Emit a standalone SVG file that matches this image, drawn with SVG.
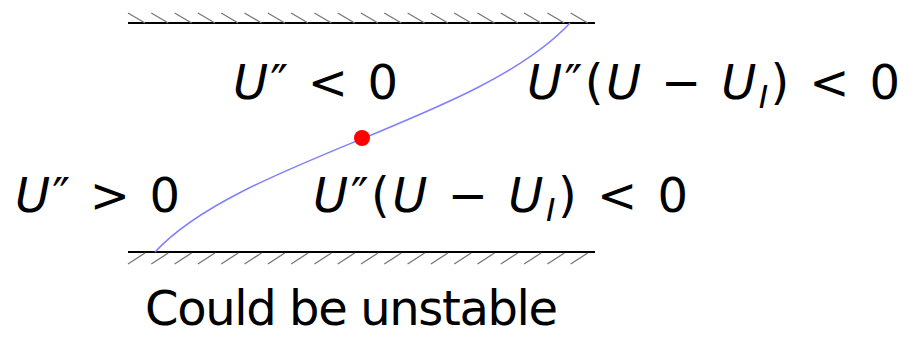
<svg xmlns="http://www.w3.org/2000/svg" width="915" height="339" viewBox="0 0 915 339">
<style>
.wall{stroke:#000;stroke-width:2;fill:none}
.hatch{stroke:#777;stroke-width:1.3;fill:none}
.t{font-family:"DejaVu Sans","Liberation Sans",sans-serif;font-size:48px;fill:#000}
.i{font-style:italic}
.curve{stroke:#8080ff;stroke-width:1.5;fill:none}
</style>
<g id="top-wall">
<line class="wall" x1="128" y1="23" x2="595" y2="23"/>
<g class="hatch">
<path d="M128,13 l17,10 M151.3,13 l17,10 M174.6,13 l17,10 M197.9,13 l17,10 M221.2,13 l17,10 M244.5,13 l17,10 M267.8,13 l17,10 M291.1,13 l17,10 M314.4,13 l17,10 M337.7,13 l17,10 M361,13 l17,10 M384.3,13 l17,10 M407.6,13 l17,10 M430.9,13 l17,10 M454.2,13 l17,10 M477.5,13 l17,10 M500.8,13 l17,10 M524.1,13 l17,10 M547.4,13 l17,10 M570.7,13 l17,10"/>
</g>
</g>
<g id="bottom-wall">
<line class="wall" x1="128" y1="252" x2="595" y2="252"/>
<g class="hatch">
<path d="M128,264 l17,-11 M151.3,264 l17,-11 M174.6,264 l17,-11 M197.9,264 l17,-11 M221.2,264 l17,-11 M244.5,264 l17,-11 M267.8,264 l17,-11 M291.1,264 l17,-11 M314.4,264 l17,-11 M337.7,264 l17,-11 M361,264 l17,-11 M384.3,264 l17,-11 M407.6,264 l17,-11 M430.9,264 l17,-11 M454.2,264 l17,-11 M477.5,264 l17,-11 M500.8,264 l17,-11 M524.1,264 l17,-11 M547.4,264 l17,-11 M570.7,264 l17,-11"/>
</g>
</g>
<g id="connectors">
<path class="curve" d="M155,252 C240,160 480,120 570,23"/>
</g>
<g id="inflection-point">
<circle cx="362" cy="138" r="8" fill="#ff0000"/>
</g>
<g id="label-upper-left">
<text class="t" x="233" y="99" textLength="165" lengthAdjust="spacing"><tspan class="i">U</tspan>″ &lt; 0</text>
</g>
<g id="label-upper-right">
<text class="t" x="527" y="99" textLength="373" lengthAdjust="spacing"><tspan class="i">U</tspan>″(<tspan class="i">U</tspan> − <tspan class="i">U</tspan><tspan class="i" font-size="32" dy="9">I</tspan><tspan dy="-9">)</tspan> &lt; 0</text>
</g>
<g id="label-lower-left">
<text class="t" x="15" y="212" textLength="165" lengthAdjust="spacing"><tspan class="i">U</tspan>″ &gt; 0</text>
</g>
<g id="label-lower-right">
<text class="t" x="313" y="212" textLength="375" lengthAdjust="spacing"><tspan class="i">U</tspan>″(<tspan class="i">U</tspan> − <tspan class="i">U</tspan><tspan class="i" font-size="32" dy="9">I</tspan><tspan dy="-9">)</tspan> &lt; 0</text>
</g>
<g id="caption">
<text class="t" x="145" y="325" font-size="42" textLength="413" lengthAdjust="spacing">Could be unstable</text>
</g>
</svg>
